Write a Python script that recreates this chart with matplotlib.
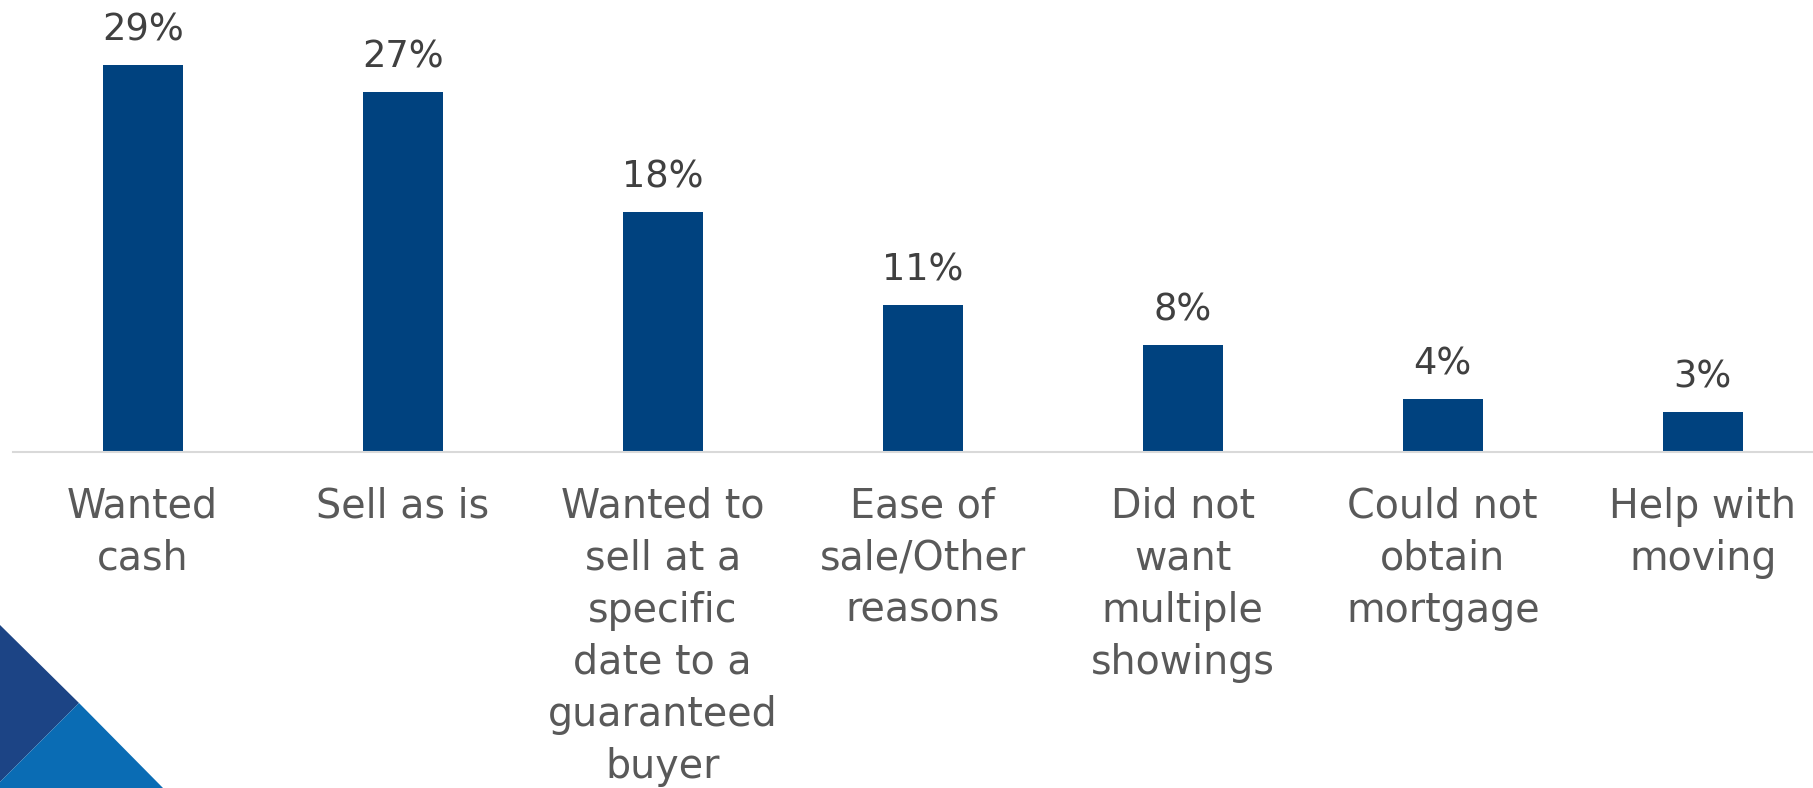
import matplotlib
matplotlib.use("Agg")
import matplotlib.pyplot as plt
from matplotlib.patches import Polygon
from matplotlib.transforms import blended_transform_factory

categories = ["Wanted\ncash", "Sell as is",
              "Wanted to\nsell at a\nspecific\ndate to a\nguaranteed\nbuyer",
              "Ease of\nsale/Other\nreasons", "Did not\nwant\nmultiple\nshowings",
              "Could not\nobtain\nmortgage", "Help with\nmoving"]
values = [29, 27, 18, 11, 8, 4, 3]
value_labels = ["29%", "27%", "18%", "11%", "8%", "4%", "3%"]

W, H = 1813, 788
fig = plt.figure(figsize=(W / 100, H / 100), dpi=100)
plt.rcParams['font.family'] = ['DejaVu Sans']

# decorative triangles (bottom left)
def px(x, y):
    return (x / W, 1 - y / H)
dark = Polygon([px(0, 625), px(79, 703), px(0, 782)], closed=True,
               transform=fig.transFigure, facecolor="#1c4485", edgecolor="none")
light = Polygon([px(79, 703), px(163, 788), px(-6, 788)], closed=True,
                transform=fig.transFigure, facecolor="#0a6cb4", edgecolor="none")
fig.patches.extend([dark, light])

left_px, base_px = 12.7, 452
ax = fig.add_axes([left_px / W, 1 - base_px / H, (W - left_px) / W, base_px / H])
ax.patch.set_alpha(0)
step = 260.0
ax.set_xlim(-0.5, -0.5 + (W - left_px) / step)
ax.set_ylim(0, base_px / 13.35)

x = list(range(len(values)))
ax.bar(x, values, width=80 / step, color="#00427f", zorder=2)

for s in ["top", "right", "left"]:
    ax.spines[s].set_visible(False)
ax.spines["bottom"].set_color("#d9d9d9")
ax.spines["bottom"].set_linewidth(1.5)
ax.set_yticks([])
ax.set_xticks([])

for xi, v, lab in zip(x, values, value_labels):
    ax.annotate(lab, (xi, v), xytext=(0, 25), textcoords="offset points",
                ha="center", va="center", fontsize=26.5, color="#404040")

tr = blended_transform_factory(ax.transData, ax.transAxes)
for xi, cat in zip(x, categories):
    ax.annotate(cat, (xi, 0), xycoords=tr, xytext=(0, -25), textcoords="offset points",
                ha="center", va="top", fontsize=28.5, color="#595959",
                linespacing=1.39)

fig.savefig("out.png", dpi=100)
